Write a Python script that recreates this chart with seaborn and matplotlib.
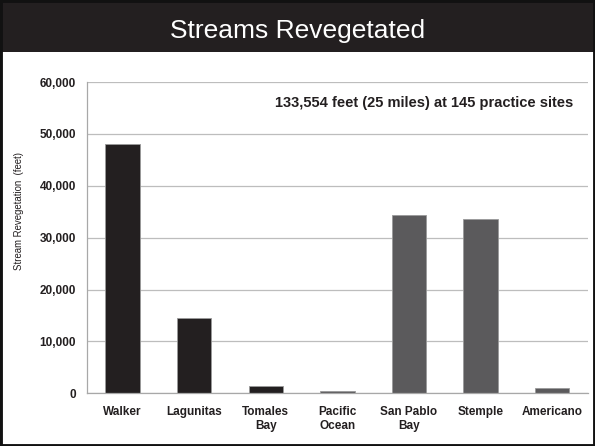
import matplotlib
matplotlib.use("Agg")
import matplotlib.pyplot as plt
import matplotlib.patches as mpatches
from matplotlib.ticker import FuncFormatter, FixedLocator
import pandas as pd
import seaborn as sns

# podaci
watersheds = ["Walker", "Lagunitas", "Tomales\nBay", "Pacific\nOcean",
              "San Pablo\nBay", "Stemple", "Americano"]
feet = [48100, 14500, 1400, 500, 34300, 33700, 1000]
bar_colors = ["#231f20", "#231f20", "#231f20", "#5b5a5c",
              "#5b5a5c", "#5b5a5c", "#5b5a5c"]
y_ticks = [0, 10000, 20000, 30000, 40000, 50000, 60000]
title = "Streams Revegetated"
note = "133,554 feet (25 miles) at 145 practice sites"

sns.set_style("white")
plt.rcParams["font.family"] = ["Liberation Sans", "DejaVu Sans"]

df = pd.DataFrame({"watershed": watersheds, "feet": feet})

fig = plt.figure(figsize=(5.95, 4.46), dpi=100)
ax = fig.add_axes([0.146, 0.118, 0.842, 0.698])

sns.barplot(data=df, x="watershed", y="feet", hue="watershed",
            palette=bar_colors, legend=False, width=0.48,
            edgecolor="#9a9a9a", linewidth=0.6, saturation=1, ax=ax)

ax.set_ylim(0, 60000)
ax.set_xlim(-0.5, len(watersheds) - 0.5)
ax.yaxis.set_major_locator(FixedLocator(y_ticks))
ax.yaxis.set_major_formatter(FuncFormatter(lambda v, p: f"{int(v):,}"))
ax.grid(axis="y", color="#bdbdbd", linewidth=0.9)
ax.set_axisbelow(True)

for s in ["top", "right"]:
    ax.spines[s].set_visible(False)
for s in ["left", "bottom"]:
    ax.spines[s].set_color("#a8a8a8")
    ax.spines[s].set_linewidth(0.9)

ax.tick_params(axis="y", length=4, width=0.8, color="#a8a8a8", direction="out",
               labelsize=8.5, pad=4)
ax.tick_params(axis="x", which="major", length=0, labelsize=8.5, pad=9)
ax.set_xticks([i - 0.5 for i in range(len(watersheds) + 1)], minor=True)
ax.tick_params(axis="x", which="minor", length=4, width=0.8, color="#a8a8a8",
               direction="out")
for lbl in ax.get_xticklabels() + ax.get_yticklabels():
    lbl.set_fontweight("bold")
    lbl.set_color("#231f20")

ax.set_xlabel("")
ax.set_ylabel("Stream Revegetation  (feet)", fontsize=6.9, color="#231f20")
ax.yaxis.set_label_coords(-0.125, 0.586)

ax.text(0.97, 0.932, note, transform=ax.transAxes, ha="right", va="center",
        fontsize=10.5, fontweight="bold", color="#231f20")

# naslovna traka i okvir
fig.patches.append(mpatches.Rectangle((0, 0.883), 1, 0.117, transform=fig.transFigure,
                                      facecolor="#231f20", edgecolor="none", zorder=0))
fig.patches.append(mpatches.Rectangle((0, 0), 1, 1, transform=fig.transFigure,
                                      facecolor="none", edgecolor="#111111",
                                      linewidth=3.5, zorder=5))
fig.text(0.5, 0.915, title, ha="center", va="baseline", fontsize=19, color="white")

fig.savefig("out.png", dpi=100)
